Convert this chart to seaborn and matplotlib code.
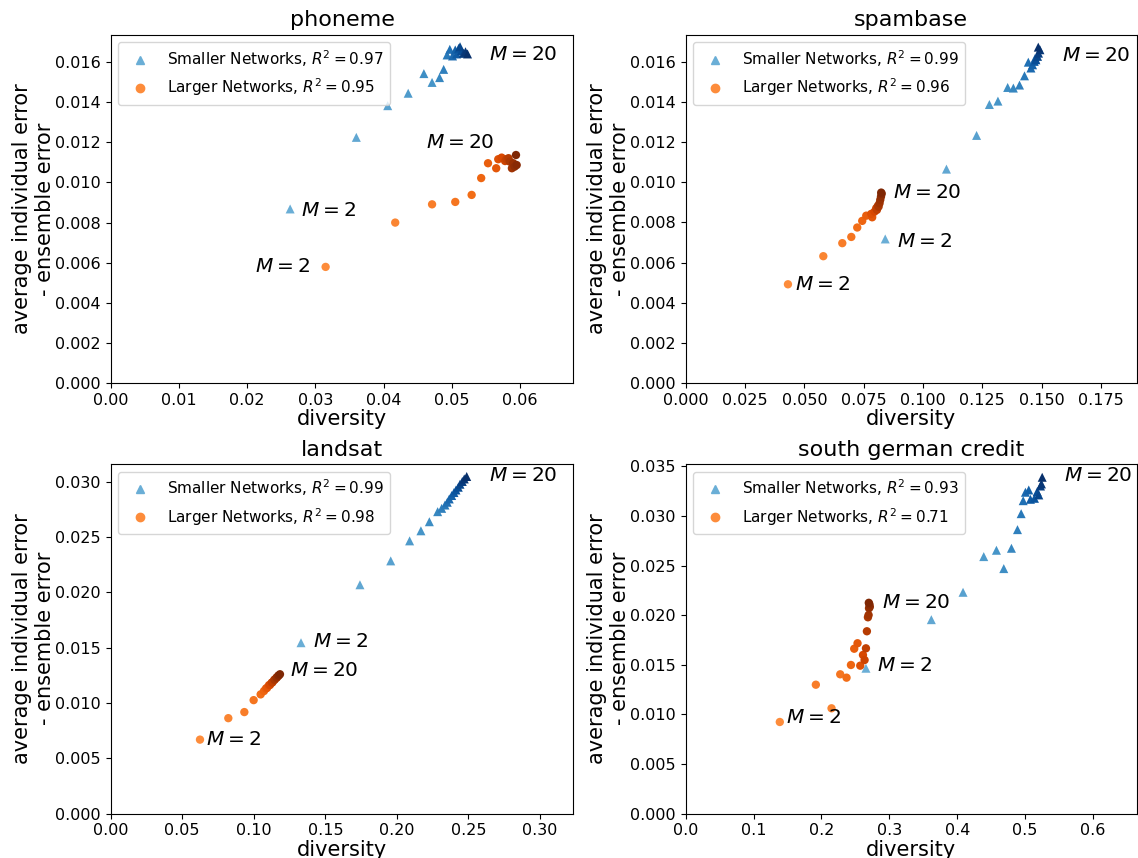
import matplotlib
matplotlib.use("Agg")
import matplotlib.pyplot as plt
from matplotlib.lines import Line2D
import seaborn as sns
import pandas as pd
import numpy as np

# ensemble size M = 2 .. 20
M_values = list(range(2, 21))

# ---------------- phoneme ----------------
phoneme_small_div = [0.0263, 0.0360, 0.0406, 0.0436, 0.0471, 0.0459, 0.0482, 0.0488,
                     0.0493, 0.0497, 0.0501, 0.0505, 0.0507, 0.0510, 0.0514, 0.0512,
                     0.0517, 0.0520, 0.0523]
phoneme_small_gap = [0.00868, 0.01225, 0.01383, 0.01445, 0.01499, 0.01543, 0.01523, 0.01564,
                     0.01636, 0.01664, 0.01631, 0.01661, 0.01641, 0.01669, 0.01657, 0.01677,
                     0.01644, 0.01652, 0.01641]
phoneme_large_div = [0.0315, 0.0417, 0.0471, 0.0505, 0.0529, 0.0543, 0.0553, 0.0565,
                     0.0568, 0.0573, 0.0578, 0.0580, 0.0583, 0.0585, 0.0588, 0.0590,
                     0.0592, 0.0595, 0.0594]
phoneme_large_gap = [0.00579, 0.00800, 0.00891, 0.00903, 0.00938, 0.01022, 0.01096, 0.01071,
                     0.01116, 0.01124, 0.01107, 0.01116, 0.01121, 0.01104, 0.01071, 0.01096,
                     0.01079, 0.01087, 0.01137]

# ---------------- spambase ----------------
spam_small_div = [0.0841, 0.1099, 0.1226, 0.1280, 0.1316, 0.1357, 0.1381, 0.1407, 0.1428,
                  0.1444, 0.1455, 0.1462, 0.1469, 0.1473, 0.1476, 0.1483, 0.1487, 0.1493,
                  0.1486]
spam_small_gap = [0.00718, 0.01066, 0.01234, 0.01388, 0.01405, 0.01473, 0.01470, 0.01485, 0.01531,
                  0.01599, 0.01570, 0.01586, 0.01603, 0.01619, 0.01611, 0.01628, 0.01644, 0.01661,
                  0.01674]
spam_large_div = [0.0431, 0.0580, 0.0660, 0.0698, 0.0723, 0.0744, 0.0761, 0.0786,
                  0.0782, 0.0796, 0.0803, 0.0806, 0.0810, 0.0813, 0.0817, 0.0820,
                  0.0823, 0.0826, 0.0824]
spam_large_gap = [0.00492, 0.00632, 0.00697, 0.00728, 0.00775, 0.00808, 0.00834, 0.00826,
                  0.00843, 0.00854, 0.00871, 0.00863, 0.00883, 0.00879, 0.00896, 0.00913,
                  0.00929, 0.00943, 0.00949]

# ---------------- landsat ----------------
landsat_small_div = [0.1330, 0.1742, 0.1957, 0.2089, 0.2168, 0.2227,
                     0.2285, 0.2313, 0.2336, 0.2352, 0.2366, 0.2383, 0.2399, 0.2413,
                     0.2429, 0.2441, 0.2457, 0.2471, 0.2488]
landsat_small_gap = [0.01544, 0.02068, 0.02284, 0.02465, 0.02556, 0.02638,
                     0.02729, 0.02759, 0.02789, 0.02814, 0.02844, 0.02875, 0.02902, 0.02925,
                     0.02950, 0.02977, 0.03002, 0.03025, 0.03047]
landsat_large_div = [0.0624, 0.0822, 0.0934, 0.0999, 0.1048,
                     0.1071, 0.1085, 0.1093, 0.1106, 0.1113, 0.1125, 0.1130, 0.1143,
                     0.1146, 0.1158, 0.1161, 0.1171, 0.1174, 0.1183]
landsat_large_gap = [0.00668, 0.00862, 0.00917, 0.01025, 0.01077,
                     0.01107, 0.01130, 0.01136, 0.01160, 0.01162, 0.01183, 0.01185, 0.01208,
                     0.01210, 0.01228, 0.01229, 0.01246, 0.01247, 0.01259]

# ---------------- south german credit ----------------
sgc_small_div = [0.2655, 0.3618, 0.4085, 0.4390, 0.4577, 0.4685, 0.4798, 0.4887, 0.4941, 0.4971,
                 0.5004, 0.5053, 0.5078, 0.5137, 0.5177, 0.5201, 0.5226, 0.5240, 0.5251]
sgc_small_gap = [0.01465, 0.01955, 0.02231, 0.02591, 0.02655, 0.02470, 0.02675, 0.02863, 0.03024, 0.03155,
                 0.03240, 0.03263, 0.03169, 0.03179, 0.03246, 0.03213, 0.03303, 0.03324, 0.03391]
sgc_large_div = [0.1386, 0.2148, 0.1917, 0.2276, 0.2369, 0.2434, 0.2482, 0.2531, 0.2571, 0.2611,
                 0.2635, 0.2655, 0.2669, 0.2684, 0.2694, 0.2700, 0.2712, 0.2706, 0.2697]
sgc_large_gap = [0.00923, 0.01061, 0.01299, 0.01404, 0.01370, 0.01498, 0.01662, 0.01717, 0.01491, 0.01599,
                 0.01548, 0.01666, 0.01838, 0.01979, 0.02002, 0.02070, 0.02085, 0.02110, 0.02125]

titles = ["phoneme", "spambase", "landsat", "south german credit"]
r2_small = [0.97, 0.99, 0.99, 0.93]
r2_large = [0.95, 0.96, 0.98, 0.71]

panels = [
    (phoneme_small_div, phoneme_small_gap, phoneme_large_div, phoneme_large_gap),
    (spam_small_div, spam_small_gap, spam_large_div, spam_large_gap),
    (landsat_small_div, landsat_small_gap, landsat_large_div, landsat_large_gap),
    (sgc_small_div, sgc_small_gap, sgc_large_div, sgc_large_gap),
]

# ---------------- layout ----------------
W, H = 1138, 858
axes_px = [(110.7, 34.7, 573.3, 383.0), (685.7, 34.7, 1136.5, 383.0),
           (110.7, 464.0, 573.3, 813.5), (685.7, 464.0, 1136.5, 813.5)]
xlims = [0.0678, 0.190, 0.3233, 0.664]
ylims = [0.01737, 0.01736, 0.0316, 0.03525]
# label offsets in pixels (dx, dy) relative to the M=2 / M=20 point: small-M2, small-M20, large-M2, large-M20
label_off = [
    [(11, -2, "left"), (21, -1, "left"), (-16, 0, "right"), (-22, 13, "right")],
    [(12, -3, "left"), (24, -8, "left"), (7, 0, "left"), (12, 0, "left")],
    [(12, 1, "left"), (22, 1, "left"), (6, 0, "left"), (10, 4, "left")],
    [(11, 3, "left"), (22, 2, "left"), (6, 4, "left"), (13, 0, "left")],
]

blues = plt.get_cmap("Blues")(np.linspace(0.5, 1.0, len(M_values)))
oranges = plt.get_cmap("Oranges")(np.linspace(0.5, 1.0, len(M_values)))
pal_small = {m: c for m, c in zip(M_values, blues)}
pal_large = {m: c for m, c in zip(M_values, oranges)}

fig = plt.figure(figsize=(W / 100, H / 100), dpi=100)
px2pt = 72 / 100

for i, (sd, sg, ld, lg) in enumerate(panels):
    x0, y0, x1, y1 = axes_px[i]
    ax = fig.add_axes([x0 / W, 1 - y1 / H, (x1 - x0) / W, (y1 - y0) / H])

    df_s = pd.DataFrame({"M": M_values, "diversity": sd, "gap": sg})
    df_l = pd.DataFrame({"M": M_values, "diversity": ld, "gap": lg})

    sns.scatterplot(data=df_s, x="diversity", y="gap", hue="M", palette=pal_small,
                    marker="^", s=42, linewidth=0, legend=False, ax=ax)
    sns.scatterplot(data=df_l, x="diversity", y="gap", hue="M", palette=pal_large,
                    marker="o", s=36, linewidth=0, legend=False, ax=ax)

    ax.set_xlim(0, xlims[i])
    ax.set_ylim(0, ylims[i])
    ax.set_title(titles[i], fontsize=16)
    ax.set_xlabel("diversity", fontsize=15, labelpad=1)
    ax.set_ylabel("average individual error\n- ensemble error", fontsize=15, labelpad=0)
    ax.tick_params(labelsize=11.5)

    pts = [(sd[0], sg[0], "$M=2$"), (sd[-1], sg[-1], "$M=20$"),
           (ld[0], lg[0], "$M=2$"), (ld[-1], lg[-1], "$M=20$")]
    for (px, py, txt), (dx, dy, ha) in zip(pts, label_off[i]):
        ax.annotate(txt, xy=(px, py), xytext=(dx * px2pt, dy * px2pt),
                    textcoords="offset points", ha=ha, va="center", fontsize=14.5)

    handles = [
        Line2D([], [], linestyle="none", marker="^", markersize=6, color=blues[0],
               label=f"Smaller Networks, $R^2 = {r2_small[i]:.2f}$"),
        Line2D([], [], linestyle="none", marker="o", markersize=6, color=oranges[0],
               label=f"Larger Networks, $R^2 = {r2_large[i]:.2f}$"),
    ]
    ax.legend(handles=handles, loc="upper left", fontsize=11)

fig.savefig("out.png", dpi=100)
